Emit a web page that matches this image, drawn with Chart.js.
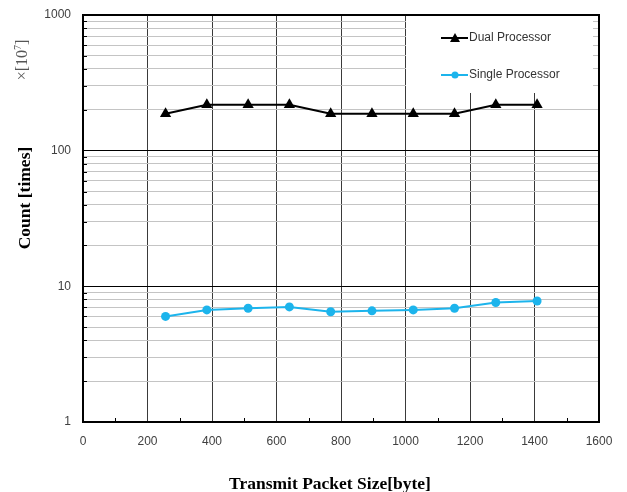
<!DOCTYPE html>
<html>
<head>
<meta charset="utf-8">
<script src="https://cdn.jsdelivr.net/npm/chart.js@4"></script>
<style>
  body { margin: 0; background: #fff; }
  #wrap { width: 627px; height: 492px; }
</style>
</head>
<body>
<div id="wrap"><canvas id="grafico" width="627" height="492"></canvas></div>
<script>
// data
const packetSizes = [256, 384, 512, 640, 768, 896, 1024, 1152, 1280, 1408];
const dualValues = [187, 218, 218, 218, 187, 187, 187, 187, 218, 218];
const singleValues = [6.0, 6.7, 6.9, 7.05, 6.5, 6.6, 6.7, 6.9, 7.6, 7.8];
const seriesNames = ['Dual Processor', 'Single Processor'];
const yMajorTicks = [1, 10, 100, 1000];
const xTicks = [0, 200, 400, 600, 800, 1000, 1200, 1400, 1600];

const dualColor = '#000000';
const singleColor = '#1CB4EC';
const labelFont = '"Liberation Sans", Arial, sans-serif';
const titleFont = '"Liberation Serif", "Times New Roman", serif';

// every minor step (2..9) inside each decade
const yAllTicks = [];
for (let i = 0; i < yMajorTicks.length; i++) {
    const base = yMajorTicks[i];
    yAllTicks.push(base);
    if (i < yMajorTicks.length - 1) {
        for (let k = 2; k <= 9; k++) yAllTicks.push(base * k);
    }
}

const extras = {
    id: 'extras',
    beforeDatasetsDraw(chart) {
        const ctx = chart.ctx;
        const a = chart.chartArea;
        const xs = chart.scales.x;
        const ys = chart.scales.y;
        ctx.save();
        // small inside ticks on the left axis
        ctx.strokeStyle = '#000';
        ctx.lineWidth = 1;
        yAllTicks.forEach(v => {
            if (yMajorTicks.includes(v)) return;
            const py = Math.round(ys.getPixelForValue(v)) + 0.5;
            ctx.beginPath();
            ctx.moveTo(a.left, py);
            ctx.lineTo(a.left + 4, py);
            ctx.stroke();
        });
        // small inside ticks on the bottom axis (every 100)
        for (let v = 100; v < 1600; v += 200) {
            const px = Math.round(xs.getPixelForValue(v)) + 0.5;
            ctx.beginPath();
            ctx.moveTo(px, a.bottom);
            ctx.lineTo(px, a.bottom - 4);
            ctx.stroke();
        }
        // legend box
        const lx = a.left + 323, ly = a.top + 1;
        ctx.fillStyle = '#fff';
        ctx.fillRect(lx, ly, 187, 77);
        const rows = [
            { name: seriesNames[0], color: dualColor, y: a.top + 23, tri: true },
            { name: seriesNames[1], color: singleColor, y: a.top + 60, tri: false }
        ];
        ctx.font = '12px ' + labelFont;
        ctx.textBaseline = 'middle';
        rows.forEach(r => {
            ctx.strokeStyle = r.color;
            ctx.fillStyle = r.color;
            ctx.lineWidth = 2;
            ctx.beginPath();
            ctx.moveTo(a.left + 358, r.y);
            ctx.lineTo(a.left + 385, r.y);
            ctx.stroke();
            const cx = a.left + 372;
            ctx.beginPath();
            if (r.tri) {
                ctx.moveTo(cx, r.y - 5);
                ctx.lineTo(cx + 5, r.y + 4);
                ctx.lineTo(cx - 5, r.y + 4);
                ctx.closePath();
            } else {
                ctx.arc(cx, r.y, 3.5, 0, Math.PI * 2);
            }
            ctx.fill();
            ctx.fillStyle = '#333';
            ctx.textAlign = 'left';
            ctx.fillText(r.name, a.left + 386, r.y);
        });
        ctx.restore();
    },
    afterDatasetsDraw(chart) {
        const ctx = chart.ctx;
        const a = chart.chartArea;
        ctx.save();
        ctx.strokeStyle = '#000';
        ctx.lineWidth = 2;
        ctx.strokeRect(a.left, a.top, a.right - a.left, a.bottom - a.top);

        // axis titles
        ctx.fillStyle = '#000';
        ctx.font = 'bold 17.5px ' + titleFont;
        ctx.textAlign = 'center';
        ctx.textBaseline = 'middle';
        ctx.fillText('Transmit Packet Size[byte]', 330, 484);

        ctx.translate(25, 198);
        ctx.rotate(-Math.PI / 2);
        ctx.fillText('Count [times]', 0, 0);
        ctx.restore();

        // multiplier note
        ctx.save();
        ctx.translate(23, 60);
        ctx.rotate(-Math.PI / 2);
        ctx.fillStyle = '#555';
        ctx.textBaseline = 'middle';
        ctx.textAlign = 'left';
        ctx.font = '16px ' + titleFont;
        const base = '\u00D7[10';
        const w = ctx.measureText(base).width;
        const sup = '7';
        ctx.font = '10px ' + titleFont;
        const ws = ctx.measureText(sup).width;
        ctx.font = '16px ' + titleFont;
        const w2 = ctx.measureText(']').width;
        const start = -(w + ws + w2) / 2;
        ctx.fillText(base, start, 0);
        ctx.font = '10px ' + titleFont;
        ctx.fillText(sup, start + w, -5);
        ctx.font = '16px ' + titleFont;
        ctx.fillText(']', start + w + ws, 0);
        ctx.restore();
    }
};

new Chart(document.getElementById('grafico'), {
    type: 'line',
    data: {
        datasets: [
            {
                label: seriesNames[0],
                data: packetSizes.map((x, i) => ({ x: x, y: dualValues[i] })),
                borderColor: dualColor,
                backgroundColor: dualColor,
                borderWidth: 2,
                pointStyle: 'triangle',
                pointRadius: 6.5,
                pointBorderWidth: 0,
                tension: 0
            },
            {
                label: seriesNames[1],
                data: packetSizes.map((x, i) => ({ x: x, y: singleValues[i] })),
                borderColor: singleColor,
                backgroundColor: singleColor,
                borderWidth: 2,
                pointStyle: 'circle',
                pointRadius: 4.5,
                pointBorderWidth: 0,
                tension: 0
            }
        ]
    },
    options: {
        responsive: false,
        animation: false,
        layout: { padding: { top: 15, right: 28, left: 0, bottom: 0 } },
        plugins: {
            legend: { display: false },
            tooltip: { enabled: false }
        },
        scales: {
            x: {
                type: 'linear',
                min: 0,
                max: 1600,
                afterFit: scale => { scale.height = 70; },
                afterBuildTicks: scale => { scale.ticks = xTicks.map(v => ({ value: v })); },
                grid: { color: '#3a3a3a', drawTicks: true, tickLength: 12, tickColor: 'rgba(0,0,0,0)' },
                border: { display: true, color: '#000', width: 2 },
                ticks: {
                    padding: 0,
                    color: '#404040',
                    font: { family: labelFont, size: 12 },
                    callback: v => String(v)
                }
            },
            y: {
                type: 'logarithmic',
                min: 1,
                max: 1000,
                afterFit: scale => { scale.width = 83; },
                afterBuildTicks: scale => { scale.ticks = yAllTicks.map(v => ({ value: v })); },
                grid: {
                    drawTicks: true,
                    tickLength: 12,
                    tickColor: 'rgba(0,0,0,0)',
                    color: c => yMajorTicks.includes(c.tick.value) ? '#000' : '#c4c4c4'
                },
                border: { display: true, color: '#000', width: 2 },
                ticks: {
                    autoSkip: false,
                    padding: 0,
                    color: '#404040',
                    font: { family: labelFont, size: 12 },
                    callback: v => yMajorTicks.includes(v) ? String(v) : ''
                }
            }
        }
    },
    plugins: [extras]
});
</script>
</body>
</html>
